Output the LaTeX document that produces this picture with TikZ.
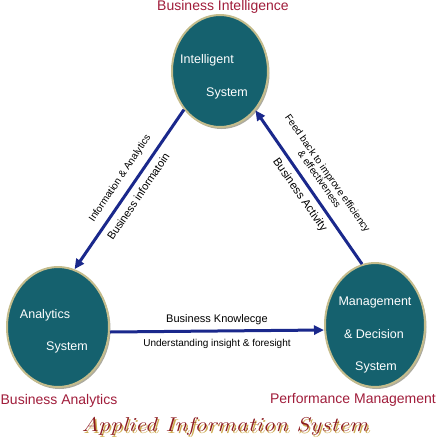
\documentclass[tikz,border=0pt]{standalone}
\usepackage{fontspec}
\setsansfont{Liberation Sans}
\usetikzlibrary{arrows.meta,shapes.geometric,shadows}
\definecolor{sysfill}{RGB}{21,97,110}
\definecolor{sysrim}{RGB}{196,188,140}
\definecolor{labred}{RGB}{160,28,58}
\definecolor{flowblue}{RGB}{26,40,140}
\definecolor{titlered}{RGB}{140,26,30}
\definecolor{titlegold}{RGB}{205,170,80}
\newcommand{\fsz}[1]{\fontsize{#1}{#1}\selectfont}
\begin{document}
\begin{tikzpicture}[x=1pt, y=-1pt,
  system/.style={ellipse, fill=sysfill, draw=sysrim, line width=2pt, inner sep=0pt,
    drop shadow={shadow xshift=1.5pt, shadow yshift=-2pt, fill=black!55!sysrim}},
  systext/.style={text=white, font=\sffamily\fsz{12.5}},
  area/.style={text=labred, font=\sffamily\fsz{14}},
  flow/.style={draw=flowblue, line width=3pt, -{Triangle[length=10pt,width=9pt]}},
  flowtext/.style={font=\sffamily\fsz{10}, align=center, inner sep=1pt}]
\useasboundingbox (0,0) rectangle (440,440);

% the three systems
\node[system, minimum width=96pt, minimum height=112pt] (intel) at (220,71) {};
\node[system, minimum width=102pt, minimum height=120pt] (anal) at (58,327) {};
\node[system, minimum width=100pt, minimum height=124pt] (mgmt) at (375,325) {};

\node[systext] (intelA) at (207,60) {Intelligent};
\node[systext] (intelB) at (227,93) {System};
\node[systext] (analA) at (45,315) {Analytics};
\node[systext] (analB) at (67,347) {System};
\node[systext] (mgmtA) at (375,302) {Management};
\node[systext] (mgmtB) at (374,334) {\& Decision};
\node[systext] (mgmtC) at (376,367) {System};

% area names
\node[area] (bi) at (223,7) {Business Intelligence};
\node[area] (ba) at (59,401) {Business Analytics};
\node[area] (pm) at (353,400) {Performance Management};

% flows
\draw[flow] (intel.227) -- (anal.74)
  node[flowtext, pos=0.5, shift={(-9,-11)}, rotate=56]{Information \& Analytics}
  node[flowtext, pos=0.5, shift={(9,7)}, rotate=56, font=\sffamily\fsz{11}]{Business informatoin};
\draw[flow] (mgmt.102) -- (intel.312)
  node[flowtext, pos=0.5, shift={(15,-11)}, rotate=-55]{Feed back to improve efficiency\\\& effectiveness}
  node[flowtext, pos=0.5, shift={(-9,8)}, rotate=-55, font=\sffamily\fsz{11.5}]{Business Activity};
\draw[flow] ([yshift=-5pt]anal.east) -- ([yshift=-5pt]mgmt.west)
  node[flowtext, midway, above=4pt, font=\sffamily\fsz{11}]{Business Knowlecge}
  node[flowtext, midway, below=6pt]{Understanding insight \& foresight};

% title
\node[text=titlegold, font=\itshape\fsz{20}, xscale=1.2] (titleS) at (226.5,428) {Applied Information System};
\node[text=titlered, font=\itshape\fsz{20}, xscale=1.2] (title) at (225,426.5) {Applied Information System};

\end{tikzpicture}
\end{document}
